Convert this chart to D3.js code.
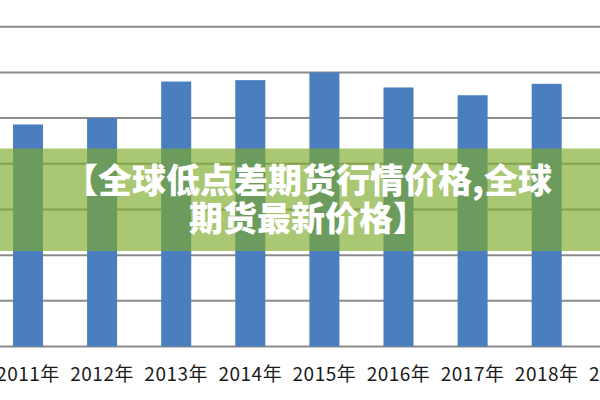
<!DOCTYPE html>
<html>
<head>
<meta charset="utf-8">
<script src="https://cdn.jsdelivr.net/npm/d3@7/dist/d3.min.js"></script>
<style>
  html, body { margin: 0; padding: 0; background: #fff; }
  svg { display: block; }
</style>
</head>
<body>
<svg id="chart" width="600" height="400"></svg>
<script>
const years = ["2011年", "2012年", "2013年", "2014年", "2015年", "2016年", "2017年", "2018年", "2019年"];
const values = [4.86, 5.0, 5.8, 5.83, 6.0, 5.67, 5.5, 5.75, null];
const yTicks = [0, 1, 2, 3, 4, 5, 6, 7];
const titleLines = ["【全球低点差期货行情价格,全球", "期货最新价格】"];

const W = 600, H = 400;
const svg = d3.select("#chart");

const step = 74.1;
const firstCenter = 28;
const x = d3.scaleBand()
  .domain(years)
  .range([firstCenter - step / 2, firstCenter - step / 2 + years.length * step])
  .paddingInner(0.595)
  .paddingOuter(0.595 / 2);

const y = d3.scaleLinear().domain([0, 7]).range([346.5, 26.7]);

// gridlines
svg.append("g").selectAll("line")
  .data(yTicks)
  .join("line")
  .attr("x1", 0).attr("x2", W)
  .attr("y1", d => y(d)).attr("y2", d => y(d))
  .attr("stroke", "#8c8c8c")
  .attr("stroke-width", 2);

// bars
svg.append("g").selectAll("rect")
  .data(years.map((c, i) => ({ c, v: values[i] })).filter(d => d.v != null))
  .join("rect")
  .attr("x", d => x(d.c))
  .attr("width", x.bandwidth())
  .attr("y", d => y(d.v))
  .attr("height", d => y(0) - y(d.v))
  .attr("fill", "#4a7ebf");

// x axis labels
const xAxis = d3.axisBottom(x).tickSize(0).tickPadding(0);
const gx = svg.append("g")
  .attr("transform", `translate(0, ${y(0)})`)
  .call(xAxis);
gx.select(".domain").remove();
gx.selectAll("text")
  .attr("dy", 0)
  .attr("y", 34.5)
  .attr("fill", "#1a1a1a")
  .style("font-family", "'Noto Sans CJK SC', 'Noto Sans', sans-serif")
  .style("font-size", "19px")
  .style("letter-spacing", "0.5px");

// banner overlay
svg.append("rect")
  .attr("x", 0).attr("y", 148.5)
  .attr("width", W).attr("height", 102.5)
  .attr("fill", "rgb(126,172,43)")
  .attr("fill-opacity", 0.66);

svg.append("g").selectAll("text")
  .data(titleLines)
  .join("text")
  .attr("x", 308)
  .attr("y", (d, i) => 193 + i * 38)
  .attr("text-anchor", "middle")
  .attr("fill", "#ffffff")
  .style("font-family", "'Noto Sans CJK SC', sans-serif")
  .style("font-weight", 900)
  .style("font-size", "34px")
  .text(d => d);
</script>
</body>
</html>
